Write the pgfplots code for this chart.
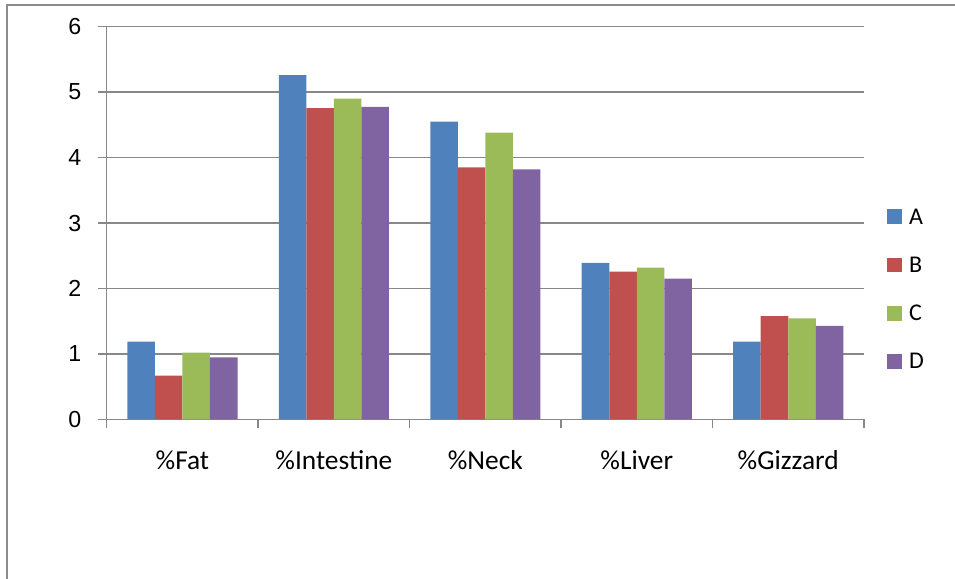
\documentclass[border=0pt]{standalone}
\usepackage{fontspec}
\setmainfont{Carlito}
\newfontfamily\arialfont{Liberation Sans}
\usepackage{pgfplots}
\pgfplotsset{compat=1.18}

\definecolor{serA}{HTML}{4F81BD}
\definecolor{serB}{HTML}{C0504D}
\definecolor{serC}{HTML}{9BBB59}
\definecolor{serD}{HTML}{8064A2}
\definecolor{gridgray}{HTML}{888888}
\definecolor{framegray}{HTML}{8C8C8C}

\begin{document}
\begin{tikzpicture}
\path[use as bounding box] (0,0) rectangle (477.5pt,289.5pt);
% outer chart frame (left and top edges)
\draw[framegray, line width=1pt] (3.65pt,0) -- (3.65pt,286.75pt) -- (477.5pt,286.75pt);
\begin{axis}[
  at={(53.35pt,79.75pt)}, anchor=south west,
  scale only axis, width=378.65pt, height=196.45pt,
  ybar=0pt, bar width=13.77pt,
  xmin=0.5, xmax=5.5, ymin=0, ymax=6,
  xtick={0.5,1.5,...,5.5},
  x tick label as interval,
  xticklabels={\%Fat,\%Intestine,\%Neck,\%Liver,\%Gizzard},
  ytick={0,...,6},
  axis x line*=bottom, axis y line*=left,
  ymajorgrids, grid style={gridgray, line width=0.75pt},
  axis line style={gridgray, line width=0.75pt},
  tick style={gridgray, line width=0.75pt},
  tick align=outside, major tick length=4.2pt,
  /pgf/number format/assume math mode=true,
  yticklabel style={font=\arialfont\fontsize{11.6}{13}\selectfont, anchor=east, inner sep=0pt, xshift=-8.3pt},
  xticklabel style={font=\fontsize{13.7}{15}\selectfont, anchor=base, inner sep=0pt, yshift=-20.9pt},
  legend style={draw=none, fill=none, inner sep=0pt, outer sep=0pt,
    at={(1.0308,0.5383)}, anchor=north west, row sep=16.15pt, column sep=3.6pt,
    nodes={inner sep=0pt, text height=8pt, text depth=0pt, font=\fontsize{12}{14}\selectfont}},
  legend cell align=left,
]
\addplot[fill=serA, draw=none, legend image code/.code={\fill[serA] (0pt,-4pt) rectangle (7.35pt,3.35pt);}]
  coordinates {(1,1.19) (2,5.26) (3,4.55) (4,2.39) (5,1.19)};
\addplot[fill=serB, draw=none, legend image code/.code={\fill[serB] (0pt,-4pt) rectangle (7.35pt,3.35pt);}]
  coordinates {(1,0.67) (2,4.755) (3,3.85) (4,2.26) (5,1.58)};
\addplot[fill=serC, draw=none, legend image code/.code={\fill[serC] (0pt,-4pt) rectangle (7.35pt,3.35pt);}]
  coordinates {(1,1.02) (2,4.90) (3,4.38) (4,2.32) (5,1.545)};
\addplot[fill=serD, draw=none, legend image code/.code={\fill[serD] (0pt,-4pt) rectangle (7.35pt,3.35pt);}]
  coordinates {(1,0.95) (2,4.775) (3,3.82) (4,2.15) (5,1.43)};
\legend{A,B,C,D}
\end{axis}
\end{tikzpicture}
\end{document}
